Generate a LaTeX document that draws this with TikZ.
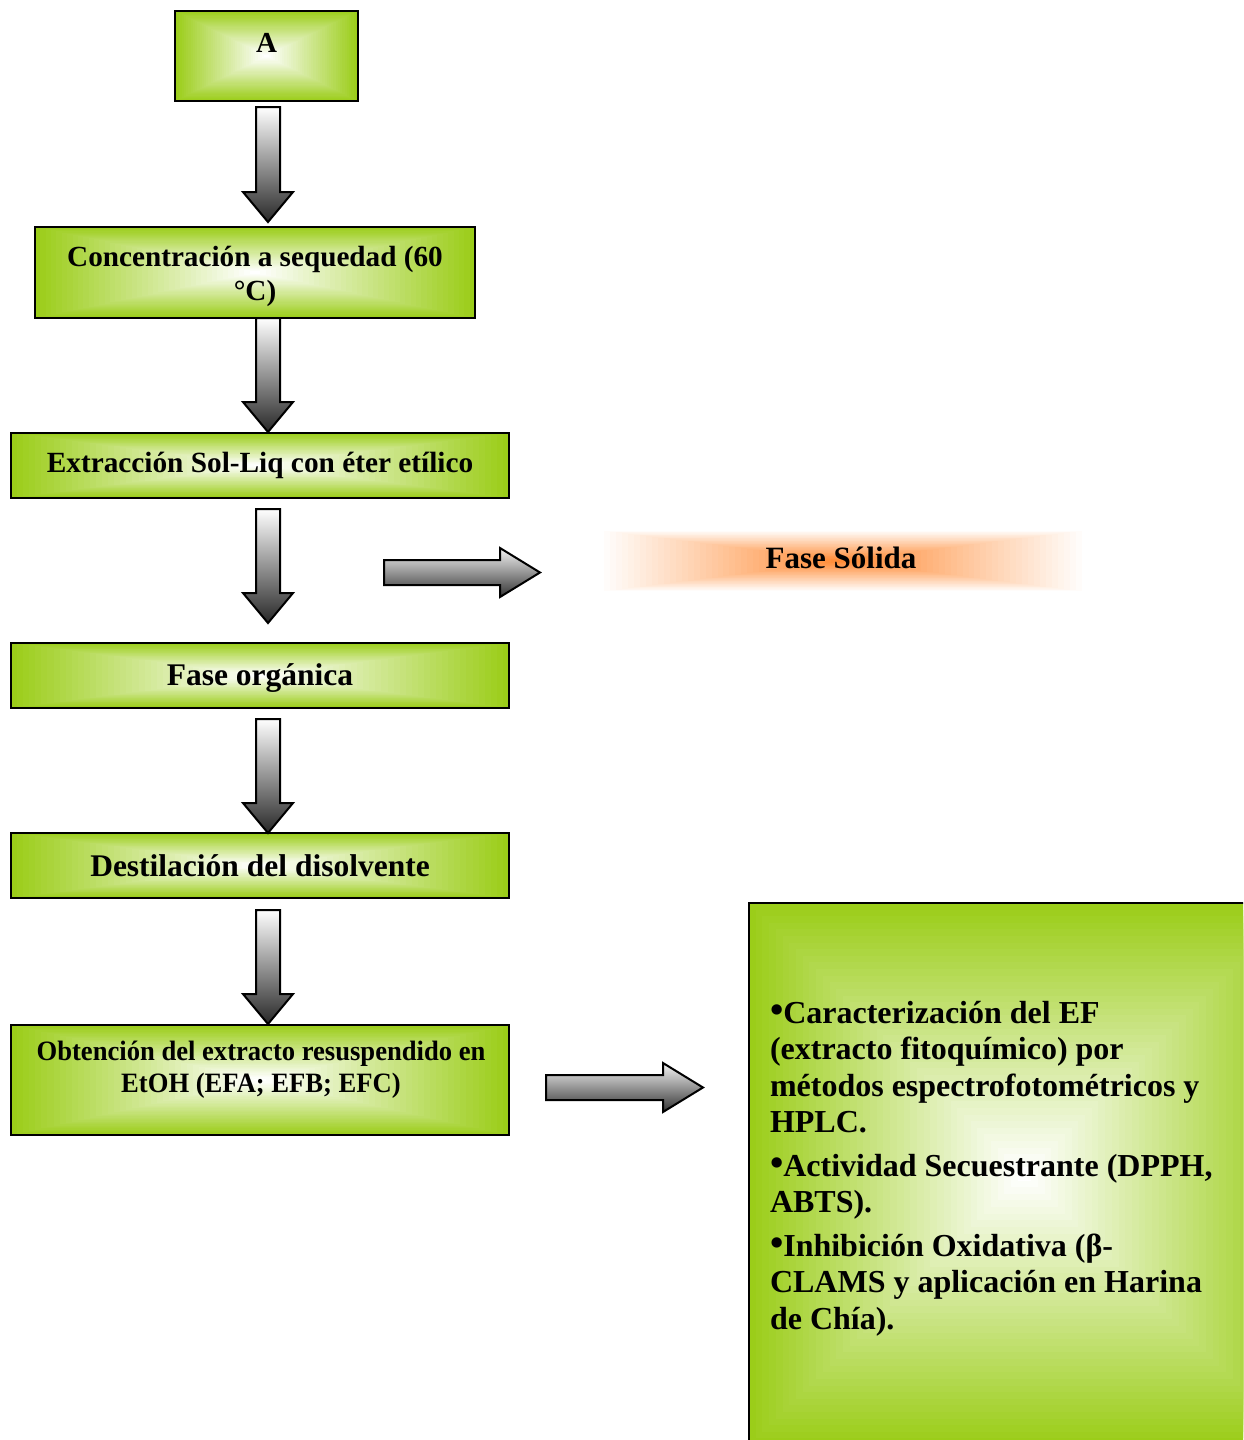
\documentclass[tikz,border=0pt]{standalone}
\usepackage{fontspec}
\setmainfont{Liberation Serif}
\usepackage{graphicx}
\usetikzlibrary{calc}
\definecolor{boxgreen}{RGB}{155,205,25}
\definecolor{orng}{RGB}{255,140,55}
\definecolor{darkarr}{RGB}{40,40,40}
\newcommand\rectgrad[3]{%
  \foreach \i in {0,...,#3}{%
    \pgfmathsetmacro\ff{\i/(2*#3+2)}%
    \pgfmathsetmacro\cc{100*\i/#3}%
    \fill[#2!\cc!#1] ($(path picture bounding box.north west)!\ff!(path picture bounding box.south east)$) rectangle ($(path picture bounding box.south east)!\ff!(path picture bounding box.north west)$);
  }}
\newcommand\bul{\raisebox{1pt}{\fontsize{38pt}{38pt}\selectfont •}}
\tikzset{
  gbox/.style={draw=black, line width=2.5pt, rectangle, inner sep=0pt, outer sep=0pt,
    path picture={\rectgrad{boxgreen}{white}{40}}, font=\bfseries, align=center},
  txt/.style={inner sep=0pt, outer sep=0pt, font=\bfseries, align=center},
  blockdn/.style={draw=black, line width=2pt, line join=miter, top color=white, bottom color=darkarr,
    to path={let \p1=(\tikztostart), \p2=(\tikztotarget) in
      (\x1-12pt,\y1) -- (\x1+12pt,\y1) -- (\x1+12pt,\y2+30pt) -- (\x1+25pt,\y2+30pt) -- (\p2)
      -- (\x1-25pt,\y2+30pt) -- (\x1-12pt,\y2+30pt) -- cycle}},
  blockrt/.style={draw=black, line width=2pt, line join=miter, top color=black!4, bottom color=black!80,
    to path={let \p1=(\tikztostart), \p2=(\tikztotarget) in
      (\x1,\y1+12.5pt) -- (\x2-40pt,\y1+12.5pt) -- (\x2-40pt,\y1+24.5pt) -- (\p2)
      -- (\x2-40pt,\y1-24.5pt) -- (\x2-40pt,\y1-12.5pt) -- (\x1,\y1-12.5pt) -- cycle}},
}
\begin{document}
\begin{tikzpicture}[x=1pt,y=-1pt]
\useasboundingbox (0,0) rectangle (1243,1440);
\clip (0,0) rectangle (1243,1440);

% boxes
\node[gbox, minimum width=183pt, minimum height=90pt] (A) at (266.5,56) {};
\node[txt, font=\bfseries\fontsize{29pt}{34pt}\selectfont] (At) at (266.5,43) {A};

\node[gbox, minimum width=440pt, minimum height=91pt] (B2) at (255,272.5) {};
\node[txt, font=\bfseries\fontsize{29.2pt}{34pt}\selectfont] (B2t) at (255,276) {Concentración a sequedad (60\\°C)};

\node[gbox, minimum width=498pt, minimum height=65pt, font=\bfseries\fontsize{29.3pt}{34pt}\selectfont] (B3) at (260,465.5) {Extracción Sol-Liq con éter etílico};

\node[gbox, minimum width=498pt, minimum height=65pt] (B4) at (260,675.5) {};
\node[txt, font=\bfseries\fontsize{31.5pt}{36pt}\selectfont] (B4t) at (260,678) {Fase orgánica};

\node[gbox, minimum width=498pt, minimum height=65pt, font=\bfseries\fontsize{31.5pt}{36pt}\selectfont] (B5) at (260,865.5) {Destilación del disolvente};

\node[gbox, minimum width=498pt, minimum height=110pt] (B6) at (260,1080) {};
\node[txt, font=\bfseries\fontsize{28pt}{32pt}\selectfont] (B6t) at (261,1070) {\scalebox{0.95}[1]{Obtención del extracto resuspendido en}\\\scalebox{0.95}[1]{EtOH (EFA; EFB; EFC)}};

% Fase Solida
\node[inner sep=0pt, outer sep=0pt, minimum width=490pt, minimum height=62pt,
  path picture={\rectgrad{white}{orng}{40}}] (FS) at (843,561) {};
\node[txt, font=\bfseries\fontsize{31pt}{36pt}\selectfont] (FSt) at (841,558) {Fase Sólida};

% big box
\node[gbox, minimum width=551pt, minimum height=542pt] (BIG) at (1024.5,1174) {};
\node[txt, align=left, anchor=north west, font=\bfseries\fontsize{32pt}{36.5pt}\selectfont] (BIGt) at (770,1001)
{\bul Caracterización del EF\\(extracto fitoquímico) por\\métodos espectrofotométricos y\\HPLC.\\[7pt]\bul Actividad Secuestrante (DPPH,\\ABTS).\\[7pt]\bul Inhibición Oxidativa (β-\\CLAMS y aplicación en Harina\\de Chía).};

% arrows
\coordinate (d1s) at (268,107); \coordinate (d1e) at (268,222);
\coordinate (d2s) at (268,318); \coordinate (d2e) at (268,432);
\coordinate (d3s) at (268,509); \coordinate (d3e) at (268,623);
\coordinate (d4s) at (268,719); \coordinate (d4e) at (268,833);
\coordinate (d5s) at (268,910); \coordinate (d5e) at (268,1024);
\coordinate (r1s) at (384,572.5); \coordinate (r1e) at (540,572.5);
\coordinate (r2s) at (546,1087.5); \coordinate (r2e) at (703,1087.5);

\path[blockdn] (d1s) to (d1e);
\path[blockdn] (d2s) to (d2e);
\path[blockdn] (d3s) to (d3e);
\path[blockdn] (d4s) to (d4e);
\path[blockdn] (d5s) to (d5e);
\path[blockrt] (r1s) to (r1e);
\path[blockrt] (r2s) to (r2e);
\end{tikzpicture}
\end{document}
